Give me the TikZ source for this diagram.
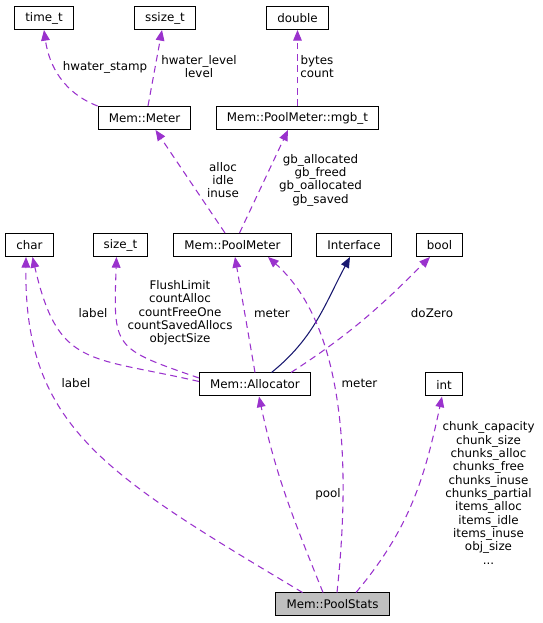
\documentclass[tikz,border=0pt]{standalone}
\usepackage{fontspec}
\setmainfont{DejaVu Sans}
\usetikzlibrary{arrows.meta}
\definecolor{memberpurple}{HTML}{9A32CD}
\definecolor{basenavy}{HTML}{191970}
\definecolor{rootgray}{HTML}{BFBFBF}

\begin{document}
\begin{tikzpicture}[
        x=0.75pt, y=0.75pt,
        font=\fontsize{8.9pt}{10pt}\selectfont,
        classbox/.style={rectangle, draw, line width=0.75pt, fill=white, inner xsep=8pt, inner ysep=0pt, minimum height=17.25pt},
        rootbox/.style={classbox, fill=rootgray},
        lbl/.style={align=center, inner sep=0pt},
        member/.style={memberpurple, line width=0.8pt, dash pattern=on 5pt off 3.5pt, -{Triangle[length=8pt,width=6.5pt]}},
        inherit/.style={basenavy, line width=0.8pt, -{Triangle[length=8pt,width=6.5pt]}}
    ]
    \useasboundingbox (0,0) rectangle (542,623);
    % Plain types
    \node[classbox] (timet) at (44,605) {time\_t};
    \node[classbox] (ssizet) at (165,605) {ssize\_t};
    \node[classbox] (double) at (297.5,605) {double};
    % Meters
    \node[classbox] (meter) at (144.5,505) {Mem::Meter};
    \node[classbox] (mgbt) at (297.5,505) {Mem::PoolMeter::mgb\_t};
    % Middle row
    \node[classbox] (char) at (29.5,378) {char};
    \node[classbox] (sizet) at (120.5,378) {size\_t};
    \node[classbox] (poolmeter) at (232.5,378) {Mem::PoolMeter};
    \node[classbox] (iface) at (354,378) {Interface};
    \node[classbox] (bool) at (439.5,378) {bool};
    % Allocator
    \node[classbox] (alloc) at (255,238.5) {Mem::Allocator};
    \node[classbox] (int) at (444,238.5) {int};
    % PoolStats
    \node[rootbox] (stats) at (332.5,18.5) {Mem::PoolStats};
    % Labels
    \node[lbl] (lstamp) at (105,556) {hwater\_stamp};
    \node[lbl] (llevel) at (199,556.5) {hwater\_level\\level};
    \node[lbl] (lbytes) at (317,556.5) {bytes\\count};
    \node[lbl] (lalloc) at (223,443) {alloc\\idle\\inuse};
    \node[lbl] (lgb) at (320.5,443) {gb\_allocated\\gb\_freed\\gb\_oallocated\\gb\_saved};
    \node[lbl] (llabela) at (93,310) {label};
    \node[lbl] (lflush) at (180,310) {FlushLimit\\countAlloc\\countFreeOne\\countSavedAllocs\\objectSize};
    \node[lbl] (lmetera) at (272,310) {meter};
    \node[lbl] (lzero) at (432,310) {doZero};
    \node[lbl] (llabelb) at (76,240) {label};
    \node[lbl] (lmeterb) at (359.5,240) {meter};
    \node[lbl] (lpool) at (328,129) {pool};
    \node[lbl] (lcounts) at (488.5,130) {chunk\_capacity\\chunk\_size\\chunks\_alloc\\chunks\_free\\chunks\_inuse\\chunks\_partial\\items\_alloc\\items\_idle\\items\_inuse\\obj\_size\\...};
    % Arrows
    \draw[member] (meter.north west) to[out=159,in=-82] (timet.south);
    \draw[member] ([shift={(3.5,0)}]meter.north) -- ([shift={(-3,0)}]ssizet.south);
    \draw[member] (mgbt.north) -- (double.south);
    \draw[member] ([shift={(-7.5,0)}]poolmeter.north) -- ([shift={(11,0)}]meter.south);
    \draw[member] ([shift={(7,0)}]poolmeter.north) -- ([shift={(-9.5,0)}]mgbt.south);
    \draw[member] ([shift={(0,3)}]alloc.west) to[out=167,in=-77,looseness=1.4] ([shift={(3,0)}]char.south);
    \draw[member] ([shift={(0,6.5)}]alloc.west) to[out=161,in=-92,looseness=1.6] ([shift={(-4,0)}]sizet.south);
    \draw[member] (alloc.north) -- ([shift={(2.5,0)}]poolmeter.south);
    \draw[inherit] ([shift={(16.5,0)}]alloc.north) to[out=39,in=-118] ([shift={(-4,0)}]iface.south);
    \draw[member] ([shift={(36,0)}]alloc.north) to[out=33,in=-135] ([shift={(-9.5,0)}]bool.south);
    \draw[member] ([shift={(-30,0)}]stats.north) .. controls (105.4,148.5) and (24,196) .. ([shift={(-3.5,0)}]char.south);
    \draw[member] ([shift={(-9.5,0)}]stats.north) to[out=112,in=-78] ([shift={(4,0)}]alloc.south);
    \draw[member] ([shift={(4.5,0)}]stats.north) .. controls (352,170) and (342,300) .. ([shift={(35.5,0)}]poolmeter.south);
    \draw[member] ([shift={(23.5,0)}]stats.north) to[out=50,in=-102] ([shift={(-2,0)}]int.south);
\end{tikzpicture}
\end{document}
